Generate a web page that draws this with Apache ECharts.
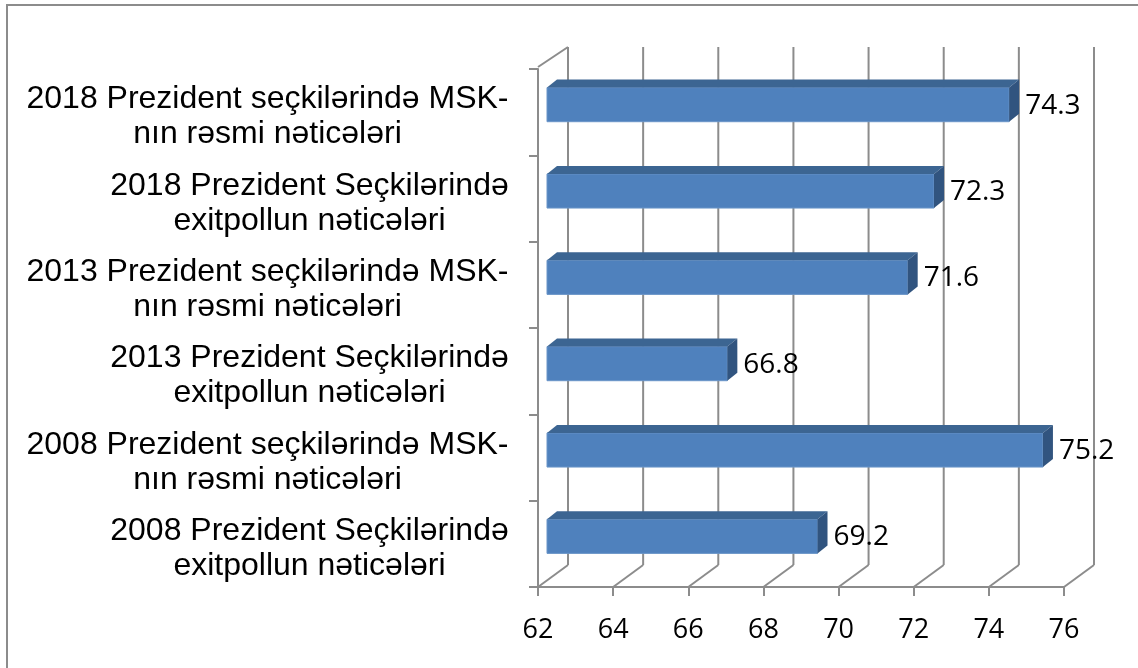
<!DOCTYPE html>
<html>
<head>
<meta charset="utf-8">
<script src="https://cdn.jsdelivr.net/npm/echarts@6/dist/echarts.min.js"></script>
<style>
  html, body { margin: 0; padding: 0; background: #fff; }
  #main { width: 1138px; height: 668px; }
</style>
</head>
<body>
<div id="main"></div>
<script>
// data, top bar first
var categories = [
    '2018 Prezident seçkilərində MSK-\nnın rəsmi nəticələri',
    '2018 Prezident Seçkilərində\nexitpollun nəticələri',
    '2013 Prezident seçkilərində MSK-\nnın rəsmi nəticələri',
    '2013 Prezident Seçkilərində\nexitpollun nəticələri',
    '2008 Prezident seçkilərində MSK-\nnın rəsmi nəticələri',
    '2008 Prezident Seçkilərində\nexitpollun nəticələri'
];
var values = [74.3, 72.3, 71.6, 66.8, 75.2, 69.2];
var xTicks = [62, 64, 66, 68, 70, 72, 74, 76];

var gridColor = '#8c8c8c';
var DX = 30, DY = -22;   // depth of the 3d box (back wall offset)
var catFont = '32px "Liberation Sans"';

var dom = document.getElementById('main');
var myChart = echarts.init(dom);

// labels: block right aligned to the axis, lines centred inside the block
var ctx = document.createElement('canvas').getContext('2d');
ctx.font = catFont;
var rich = {};
categories.forEach(function (c, i) {
    var w = 0;
    c.split('\n').forEach(function (line) {
        w = Math.max(w, ctx.measureText(line).width);
    });
    rich['c' + i] = {
        width: Math.ceil(w),
        align: 'center',
        fontFamily: 'Liberation Sans',
        fontSize: 32,
        lineHeight: 35,
        color: '#000'
    };
});

// back wall + floor lines, one per x tick
function renderWalls(params, api) {
    var cs = params.coordSys;
    var v = api.value(0);
    var x = api.coord([v, 0])[0];
    var floorY = cs.y + cs.height;
    var lineStyle = { stroke: gridColor, lineWidth: 2 };
    var children = [
        { type: 'line', shape: { x1: x + DX, y1: cs.y + DY, x2: x + DX, y2: floorY + DY }, style: lineStyle },
        { type: 'line', shape: { x1: x, y1: floorY, x2: x + DX, y2: floorY + DY }, style: lineStyle }
    ];
    if (params.dataIndex === 0) {
        // top edge of left wall
        children.push({ type: 'line', shape: { x1: x, y1: cs.y - 2, x2: x + DX, y2: cs.y + DY }, style: lineStyle });
    }
    return { type: 'group', children: children };
}

// 3d-looking bar: front face, top face, right face, label
function renderBar(params, api) {
    var val = api.value(0);
    var cat = api.value(1);
    var start = api.coord([xTicks[0], cat]);
    var end = api.coord([val, cat]);
    var band = api.size([0, 1])[1];
    var h = band * 0.395;
    var ox = 9, oy = -7.5;   // bar sits a bit back inside the box
    var bx = 10, by = -8;    // bar depth
    var x0 = start[0] + ox, x1 = end[0] + ox;
    var yc = end[1] + oy;
    var y0 = yc - h / 2, y1 = yc + h / 2;
    return {
        type: 'group',
        children: [
            { type: 'rect', shape: { x: x0, y: y0, width: x1 - x0, height: h },
              style: { fill: '#4f81bd', stroke: '#6a95c8', lineWidth: 1 } },
            { type: 'polygon', shape: { points: [[x0, y0], [x0 + bx, y0 + by], [x1 + bx, y0 + by], [x1, y0]] },
              style: { fill: '#3c6592' } },
            { type: 'polygon', shape: { points: [[x1, y0], [x1 + bx, y0 + by], [x1 + bx, y1 + by], [x1, y1]] },
              style: { fill: '#31547f' } },
            { type: 'text', x: x1 + bx + 6, y: yc + 1,
              style: { text: String(val), fill: '#000', font: '28px "Open Sans"', textAlign: 'left', textVerticalAlign: 'middle' } }
        ]
    };
}

var option = {
    animation: false,
    backgroundColor: '#fff',
    graphic: [{
        type: 'rect',
        shape: { x: 7, y: 5, width: 1200, height: 700 },
        style: { fill: 'none', stroke: '#8c8c8c', lineWidth: 2 },
        z: -10
    }],
    grid: {
        left: 538,
        right: 74,
        top: 69,
        bottom: 81
    },
    xAxis: {
        type: 'value',
        min: xTicks[0],
        max: xTicks[xTicks.length - 1],
        interval: 2,
        splitLine: { show: false },
        axisLine: { show: true, lineStyle: { color: gridColor, width: 2 } },
        axisTick: { show: true, length: 9, lineStyle: { color: gridColor, width: 2 } },
        axisLabel: {
            margin: 30,
            color: '#000',
            fontFamily: 'Open Sans',
            fontSize: 27
        }
    },
    yAxis: {
        type: 'category',
        inverse: true,
        data: categories,
        splitLine: { show: false },
        axisLine: { show: true, lineStyle: { color: gridColor, width: 2 } },
        axisTick: { show: true, length: 9, lineStyle: { color: gridColor, width: 2 } },
        axisLabel: {
            margin: 29,
            align: 'right',
            padding: [10, 0, 0, 0],
            interval: 0,
            rich: rich,
            formatter: function (value, index) {
                return value.split('\n').map(function (line) {
                    return '{c' + index + '|' + line + '}';
                }).join('\n');
            }
        }
    },
    series: [
        {
            type: 'custom',
            renderItem: renderWalls,
            data: xTicks.map(function (v) { return [v, 0]; }),
            z: 1,
            silent: true
        },
        {
            type: 'custom',
            renderItem: renderBar,
            data: values.map(function (v, i) { return [v, i]; }),
            z: 3,
            silent: true
        }
    ]
};
if (option && typeof option === "object") {
    myChart.setOption(option, true);
}
</script>
</body>
</html>
